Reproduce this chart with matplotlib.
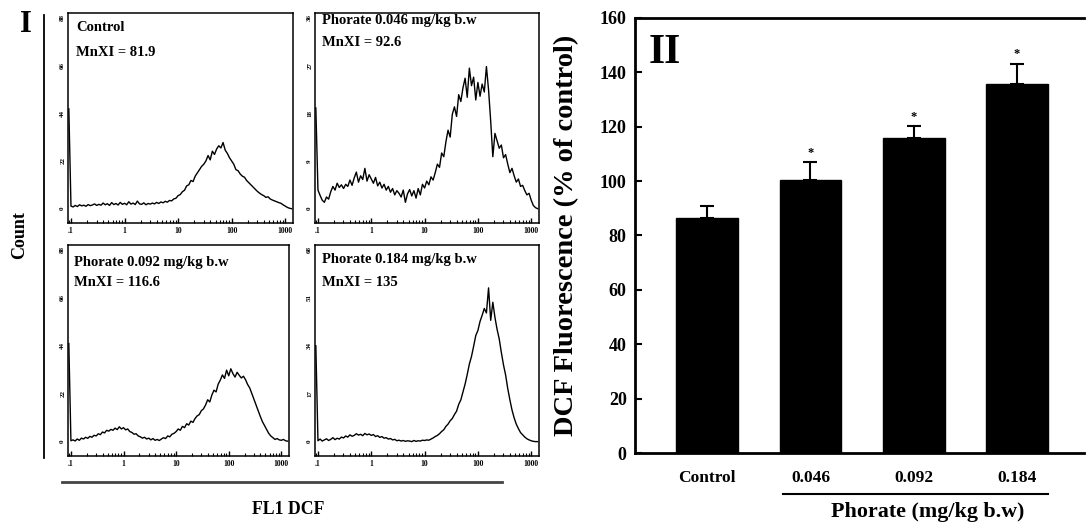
import numpy as np
import matplotlib
matplotlib.use("Agg")
import matplotlib.pyplot as plt

plt.rcParams["font.family"] = ["Liberation Serif", "DejaVu Serif"]
plt.rcParams["font.weight"] = "bold"

# Flow cytometry histograms (FL1 DCF, log channels from ~0.09 to ~1300)
fl1_log = np.arange(105) * 0.04 - 1.04
fl1_channels = 10 ** fl1_log

count_control = [
    46, 1.2, 0.8, 1.5, 1.0, 1.8, 1.3, 1.6, 1.1, 1.9, 1.4, 1.7, 2.2,
    1.5, 2.0, 1.6, 2.6, 1.8, 2.3, 1.5, 2.8, 1.9, 2.4, 1.7, 2.9, 2.0,
    2.5, 1.8, 3.2, 2.1, 2.6, 1.9, 3.5, 2.2, 2.0, 2.7, 1.8, 2.4, 2.1,
    2.6, 2.2, 2.9, 2.4, 3.1, 2.7, 3.4, 3.0, 3.8, 3.6, 4.5, 4.8, 6.0,
    6.5, 7.8, 8.5, 10.5, 11.0, 13.0, 12.5, 15.0, 16.5, 18.0, 19.5, 20.5, 22.0,
    24.5, 22.5, 26.5, 25.0, 27.5, 29.0, 28.0, 30.5, 27.0, 25.5, 23.5, 22.0, 20.5,
    18.0, 17.5, 16.0, 15.0, 14.5, 13.0, 12.0, 11.0, 10.0, 9.0, 8.0, 7.2, 6.5,
    6.0, 5.2, 5.5, 4.5, 4.0, 3.6, 3.2, 2.8, 2.5, 1.8, 1.2, 0.6, 0.2,
    0.0,
]
count_046 = [
    19, 3.5, 2.5, 1.6, 1.2, 2.2, 1.8, 3.2, 4.2, 3.5, 4.8, 4.0, 4.5,
    3.8, 4.6, 4.2, 5.4, 4.4, 5.8, 6.9, 5.0, 6.2, 5.5, 7.6, 5.2, 6.4,
    5.6, 4.8, 5.9, 4.3, 5.0, 3.9, 4.6, 3.5, 4.2, 3.1, 3.8, 2.6, 3.4,
    2.9, 2.2, 3.5, 1.2, 2.8, 3.6, 2.4, 3.4, 2.0, 3.8, 2.6, 4.6, 3.9,
    5.2, 4.5, 6.0, 5.4, 6.8, 8.4, 7.8, 10.5, 9.8, 12.6, 14.8, 13.5, 17.8,
    19.2, 17.4, 21.5, 20.2, 22.8, 24.6, 21.0, 26.5, 23.2, 24.8, 20.5, 23.8, 21.2,
    23.5, 22.0, 26.8, 22.4, 16.5, 9.8, 14.2, 12.8, 11.4, 12.0, 9.6, 10.2, 8.4,
    6.8, 7.6, 6.2, 5.0, 5.6, 4.2, 4.4, 3.4, 2.6, 2.9, 1.6, 0.6, 0.2,
    0.0,
]
count_092 = [
    45, 0.4, 0.8, 0.3, 1.2, 0.6, 1.6, 1.2, 2.0, 1.5, 2.4, 2.0, 2.9,
    2.6, 3.6, 3.2, 4.4, 4.0, 5.2, 4.8, 5.6, 5.2, 6.2, 5.5, 6.8, 5.8,
    6.4, 5.4, 5.8, 4.6, 4.2, 3.4, 3.6, 2.6, 2.2, 1.6, 2.0, 1.2, 1.6,
    0.8, 1.4, 0.6, 1.0, 0.5, 1.2, 1.8, 1.4, 2.6, 2.2, 3.4, 3.8, 4.6,
    5.8, 5.2, 7.0, 6.4, 8.2, 7.6, 9.4, 8.8, 10.6, 11.8, 12.4, 14.2, 15.0,
    16.8, 19.2, 18.2, 21.4, 23.6, 22.8, 26.4, 28.2, 30.6, 29.0, 32.8, 30.2, 33.4,
    31.2, 29.6, 31.8, 30.4, 29.2, 30.0, 28.4, 26.2, 24.6, 22.0, 19.4, 16.8, 14.2,
    11.6, 9.2, 7.4, 5.6, 3.8, 2.6, 1.8, 1.0, 1.4, 0.8, 0.6, 1.0, 0.4,
    0.2,
]
count_184 = [
    34, 0.3, 0.9, 0.2, 0.6, 1.0, 0.4, 0.8, 1.4, 0.7, 1.2, 0.9, 1.6,
    1.3, 2.0, 1.6, 2.4, 1.9, 2.2, 2.8, 2.3, 2.6, 2.1, 2.9, 2.4, 2.7,
    2.2, 2.5, 1.8, 2.1, 1.5, 1.8, 1.2, 1.4, 0.9, 1.1, 0.6, 0.8, 0.3,
    0.5, 0.2, 0.4, 0.1, 0.3, 0.2, 0.0, 0.4, 0.1, 0.3, 0.2, 0.5, 0.4,
    0.6, 0.5, 0.9, 1.3, 1.8, 2.2, 2.8, 3.6, 4.2, 5.4, 6.2, 7.4, 8.2,
    9.6, 10.8, 13.2, 14.8, 17.6, 20.4, 23.8, 27.5, 30.2, 33.8, 37.6, 39.4, 42.6,
    44.8, 47.2, 45.6, 54.5, 43.0, 49.4, 44.0, 39.8, 36.4, 31.6, 27.2, 23.6, 18.8,
    14.8, 11.2, 8.4, 6.2, 4.6, 3.2, 2.4, 1.6, 1.0, 0.6, 0.3, 0.1, 0.0,
    0.0,
]

hist_counts = [count_control, count_046, count_092, count_184]
hist_titles = ["Control", "Phorate 0.046 mg/kg b.w",
               "Phorate 0.092 mg/kg b.w", "Phorate 0.184 mg/kg b.w"]
hist_mnxi = ["MnXI = 81.9", "MnXI = 92.6", "MnXI = 116.6", "MnXI = 135"]
hist_yticks = [[0, 22, 44, 66, 88], [0, 9, 18, 27, 36],
               [0, 22, 44, 66, 88], [0, 17, 34, 51, 68]]
fl1_ticks = [0.1, 1, 10, 100, 1000]
fl1_ticklabels = [".1", "1", "10", "100", "1000"]

# Bar chart (DCF fluorescence, % of control)
groups = ["Control", "0.046", "0.092", "0.184"]
dcf_mean = [86.5, 100.3, 115.8, 135.6]
dcf_sem = [4.2, 6.8, 4.3, 7.6]
significant = [False, True, True, True]

W, H = 1086, 523
fig = plt.figure(figsize=(W / 100, H / 100), dpi=100)


def px_axes(left, top, right, bottom):
    return fig.add_axes([left / W, 1 - bottom / H, (right - left) / W, (bottom - top) / H])


# pixel boxes of the four histograms and where their labels sit
hist_boxes = [(68, 13, 293, 223), (315, 13, 539, 223),
              (68, 245, 289, 456), (315, 245, 539, 456)]
label_pos = [(0.036, 0.93, 0.81), (0.03, 0.965, 0.86),
             (0.027, 0.915, 0.82), (0.03, 0.93, 0.82)]

for box, counts, title, mnxi, yt, lp in zip(hist_boxes, hist_counts, hist_titles,
                                          hist_mnxi, hist_yticks, label_pos):
    ax = px_axes(*box)
    ax.plot(fl1_channels, counts, color="black", lw=1.0)
    ax.set_xscale("log")
    ax.set_xlim(0.088, 1400)
    step = yt[1]
    ax.set_ylim(-0.3 * step, yt[-1] + 0.1 * step)
    ax.set_yticks(yt)
    ax.set_yticklabels([str(v) for v in yt], rotation=90, va="center", fontsize=5)
    ax.set_xticks(fl1_ticks)
    ax.set_xticklabels(fl1_ticklabels, fontsize=5.5)
    ax.tick_params(axis="y", length=0, pad=2)
    ax.tick_params(axis="x", which="major", direction="in", length=3.5, width=1, pad=3)
    ax.tick_params(axis="x", which="minor", direction="in", length=2.5, width=0.8)
    for sp in ax.spines.values():
        sp.set_linewidth(1.1)
    ax.text(lp[0], lp[1], title, transform=ax.transAxes, fontsize=10.5,
            fontweight="bold", va="center", ha="left")
    ax.text(lp[0], lp[2], mnxi, transform=ax.transAxes, fontsize=10.5,
            fontweight="bold", va="center", ha="left")

# decorations of panel I
fig.text(26 / W, 1 - 25 / H, "I", fontsize=22, fontweight="bold", ha="center", va="center")
fig.text(20 / W, 1 - 235 / H, "Count", fontsize=13, fontweight="bold", rotation=90,
         ha="center", va="center")
fig.add_artist(plt.Line2D([44 / W, 44 / W], [1 - 15 / H, 1 - 458 / H], color="black", lw=1.3))
fig.add_artist(plt.Line2D([62 / W, 502 / W], [1 - 482 / H, 1 - 482 / H], color="#444444", lw=2))
fig.text(288 / W, 1 - 510 / H, "FL1 DCF", fontsize=12.8, fontweight="bold", ha="center", va="center")

# panel II bar chart
bx = px_axes(635, 18, 1084, 453)
xpos = np.arange(len(groups))
bx.bar(xpos, dcf_mean, width=0.6, color="black", edgecolor="black")
bx.errorbar(xpos, dcf_mean, yerr=[np.zeros(len(dcf_sem)), dcf_sem], fmt="none",
            ecolor="black", elinewidth=1.5, capsize=5, capthick=1.5)
for x, m, s, sig in zip(xpos, dcf_mean, dcf_sem, significant):
    if sig:
        bx.text(x, m + s + 1.2, "*", fontsize=9, fontweight="bold", ha="center", va="bottom")
bx.set_xlim(-0.7, 3.65)
bx.set_ylim(0, 160)
bx.set_yticks(range(0, 161, 20))
bx.set_yticklabels([str(v) for v in range(0, 161, 20)], fontsize=13)
bx.set_xticks(xpos)
bx.set_xticklabels(groups, fontsize=12.5)
bx.tick_params(axis="y", direction="in", length=5, width=1.5, pad=6)
bx.tick_params(axis="x", length=0, pad=12)
bx.spines["right"].set_visible(False)
for s in ["left", "bottom", "top"]:
    bx.spines[s].set_linewidth(2)
bx.set_ylabel("DCF Fluorescence (% of control)", fontsize=20.5, fontweight="bold")
bx.yaxis.set_label_coords(-0.125, 0.5)
bx.text(0.03, 0.92, "II", transform=bx.transAxes, fontsize=30, fontweight="bold",
        ha="left", va="center")

fig.add_artist(plt.Line2D([783 / W, 1048 / W], [1 - 494 / H, 1 - 494 / H], color="black", lw=1.5))
fig.text(928 / W, 1 - 512 / H, "Phorate (mg/kg b.w)", fontsize=15.8, fontweight="bold",
         ha="center", va="center")

fig.savefig("out.png", dpi=100)
